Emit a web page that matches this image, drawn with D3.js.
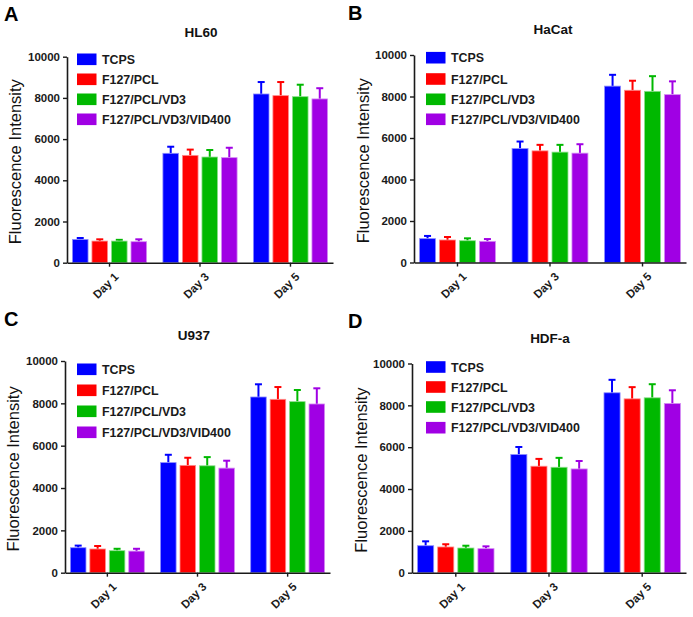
<!DOCTYPE html>
<html><head><meta charset="utf-8">
<script src="https://cdn.jsdelivr.net/npm/d3@7"></script>
<style>body{margin:0;background:#fff} text{font-family:"Liberation Sans",Arial,sans-serif}</style>
</head><body><svg id="c" width="693" height="617"></svg>
<script>
const days = ["Day 1","Day 3","Day 5"];
const groups = ["TCPS","F127/PCL","F127/PCL/VD3","F127/PCL/VD3/VID400"];
const colors = ["#0000ff","#ff0000","#00b800","#a000e4"];
const yTicks = [0,2000,4000,6000,8000,10000];
const panelLetters = ["A","B","C","D"];
const cellLines = ["HL60","HaCat","U937","HDF-a"];
const yLabel = "Fluorescence Intensity";
// rows = days, columns = groups
const hl60Mean = [[1130,1050,1050,1020],[5310,5210,5130,5100],[8190,8110,8060,7950]];
const hl60Err  = [[70,85,60,115],[320,280,340,480],[580,660,580,520]];
const hacatMean = [[1150,1085,1050,1020],[5490,5380,5320,5270],[8500,8300,8250,8090]];
const hacatErr  = [[130,145,115,110],[340,290,350,430],[545,460,730,640]];
const u937Mean = [[1180,1120,1040,1020],[5200,5070,5050,4940],[8300,8190,8080,7970]];
const u937Err  = [[100,140,90,110],[370,360,410,350],[600,580,550,740]];
const hdfaMean = [[1290,1230,1180,1150],[5650,5090,5040,4960],[8600,8310,8360,8090]];
const hdfaErr  = [[210,130,110,110],[360,350,450,380],[620,560,650,630]];

const means = [hl60Mean, hacatMean, u937Mean, hdfaMean];
const errs = [hl60Err, hacatErr, u937Err, hdfaErr];

// layout (pixels)
const layout = [
  {x0:67, x1:333, y0:262.7, yT:56.7, lx:4, ly:21, tx:201, ty:37, yl:15, lgx:77, lgy:[59.3,79.3,99.3,119.3]},
  {x0:414, x1:686, y0:262.5, yT:55, lx:348, ly:20, tx:553, ty:34, yl:363, lgx:426, lgy:[57.7,79,99.3,119.3]},
  {x0:65, x1:330, y0:572.7, yT:361, lx:4, ly:326, tx:194, ty:340, yl:13, lgx:77, lgy:[369.3,390.3,411.3,432.3]},
  {x0:412, x1:686, y0:572.7, yT:363.5, lx:348, ly:328, tx:550, ty:343, yl:361, lgx:426, lgy:[367,387,407,427.7]}
];

const svg = d3.select("#c");
const axisColor = "#1a1a1a";
const font = '"Liberation Sans",Arial,sans-serif';

layout.forEach((L, p) => {
  const g = svg.append("g");
  const x = d3.scaleBand().domain(days).range([L.x0, L.x1]).paddingInner(0.18).paddingOuter(0.06);
  const xi = d3.scaleBand().domain(groups).range([0, x.bandwidth()]).paddingInner(0.2).paddingOuter(0);
  const y = d3.scaleLinear().domain([0, 10000]).range([L.y0, L.yT]);

  // bars
  days.forEach((d, di) => {
    groups.forEach((s, si) => {
      const v = means[p][di][si], e = errs[p][di][si];
      const bx = x(d) + xi(s), bw = xi.bandwidth();
      const cx = bx + bw / 2;
      g.append("line").attr("x1", cx).attr("x2", cx).attr("y1", y(v)).attr("y2", y(v + e))
        .attr("stroke", colors[si]).attr("stroke-width", 2);
      g.append("line").attr("x1", cx - 3.5).attr("x2", cx + 3.5).attr("y1", y(v + e)).attr("y2", y(v + e))
        .attr("stroke", colors[si]).attr("stroke-width", 2);
      g.append("rect").attr("x", bx).attr("y", y(v)).attr("width", bw).attr("height", y(0) - y(v))
        .attr("fill", colors[si]).attr("stroke", d3.interpolateRgb(colors[si], "#fff")(0.55)).attr("stroke-width", 0.8);
    });
  });

  // y axis
  const ya = d3.axisLeft(y).tickValues(yTicks).tickFormat(d3.format("d")).tickSize(4).tickPadding(3).tickSizeOuter(0);
  const yg = g.append("g").attr("transform", `translate(${L.x0},0)`).call(ya);
  yg.select(".domain").attr("stroke", axisColor).attr("stroke-width", 1.6);
  yg.selectAll(".tick line").attr("stroke", axisColor).attr("stroke-width", 1.4);
  yg.selectAll(".tick text").attr("fill", "#1a1a1a").style("font-size", "11.5px").style("font-weight", "bold")
    .style("font-family", font);

  // x axis
  const xa = d3.axisBottom(x).tickSize(4).tickSizeOuter(0).tickPadding(4);
  const xg = g.append("g").attr("transform", `translate(0,${L.y0})`).call(xa);
  xg.select(".domain").attr("stroke", axisColor).attr("stroke-width", 1.6);
  xg.selectAll(".tick line").attr("stroke", axisColor).attr("stroke-width", 1.4);
  xg.selectAll(".tick text").attr("fill", "#1a1a1a").style("font-size", "11.5px").style("font-weight", "bold")
    .style("font-family", font)
    .attr("text-anchor", "end").attr("transform", "translate(7,12) rotate(-45)").attr("dy", "0.35em").attr("y", 0).attr("x", 0);

  // y label
  g.append("text").attr("transform", `translate(${L.yl + 6},${(L.y0 + L.yT) / 2 + 2}) rotate(-90)`)
    .attr("text-anchor", "middle").style("font-size", "16.5px").attr("fill", "#111").text(yLabel);

  // title
  g.append("text").attr("x", L.tx).attr("y", L.ty).attr("text-anchor", "middle")
    .style("font-size", "13.5px").style("font-weight", "bold").attr("fill", "#111").text(cellLines[p]);

  // panel letter
  g.append("text").attr("x", L.lx).attr("y", L.ly).style("font-size", "20px").style("font-weight", "bold")
    .attr("fill", "#000").text(panelLetters[p]);

  // legend
  groups.forEach((s, si) => {
    g.append("rect").attr("x", L.lgx).attr("y", L.lgy[si] - 5.8).attr("width", 19.5).attr("height", 11.6).attr("fill", colors[si]);
    g.append("text").attr("x", L.lgx + 25).attr("y", L.lgy[si] + 4.5).style("font-size", "12.4px").style("font-weight", "bold")
      .attr("fill", "#1a1a1a").text(s);
  });
});
</script></body></html>
